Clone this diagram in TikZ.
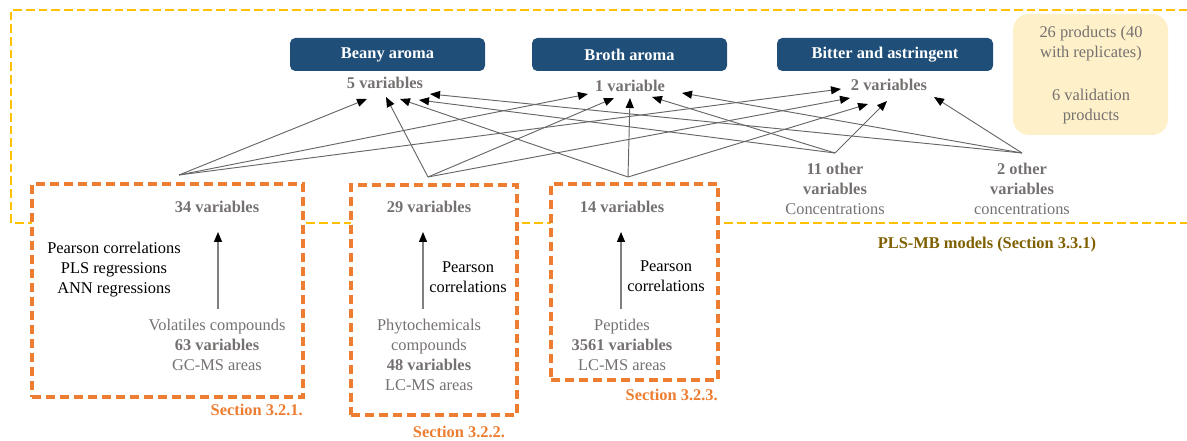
\documentclass[tikz,border=0pt]{standalone}
\usepackage{fontspec}
\setmainfont{Liberation Serif}
\usetikzlibrary{arrows.meta}
\definecolor{orng}{HTML}{ED7D31}
\definecolor{ylw}{HTML}{FFC000}
\definecolor{ylwfill}{HTML}{FEF0C8}
\definecolor{navy}{HTML}{1F4E79}
\definecolor{txtgray}{HTML}{767171}
\definecolor{gold}{HTML}{7F6000}
\begin{document}
\begin{tikzpicture}[x=0.75pt,y=-0.75pt,
  font=\fontsize{12.3}{15}\selectfont,
  every node/.style={inner sep=0pt, align=center},
  catbox/.style={fill=navy, rounded corners=4pt, text=white, font=\fontsize{12.3}{15}\selectfont\bfseries, minimum height=24.75pt},
  vb/.style={text=txtgray, font=\fontsize{12.3}{15}\selectfont\bfseries},
  gtxt/.style={text=txtgray},
  secbox/.style={draw=orng, fill=white, line width=2.5pt, dash pattern=on 7pt off 3.5pt},
  seclabel/.style={text=orng, font=\fontsize{12.3}{15}\selectfont\bfseries},
  conn/.style={draw=black!60, line width=0.7pt, -{Triangle[length=7.5pt,width=6pt,color=black,fill=black]}},
  inarrow/.style={draw=black!50, line width=0.9pt, -{Triangle[length=7.5pt,width=6pt,color=black,fill=black]}}
]
\useasboundingbox (0,0) rectangle (1187,441);
\clip (0,0) rectangle (1187,441);

% outer yellow dashed frame
\draw[ylw, line width=2.2pt, dash pattern=on 6.5pt off 3pt] (1200,10) -- (11,10) -- (11,223) -- (1200,223);

% products box
\node[fill=ylwfill, rounded corners=12pt, minimum width=116.25pt, minimum height=90.75pt] (prod) at (1090.5,74.5) {};
\node[gtxt] (prodA) at (1091,44) {26 products (40\\with replicates)};
\node[gtxt] (prodB) at (1091,107) {6 validation\\products};

% category boxes
\node[catbox, minimum width=146.25pt] (beany) at (387.5,54.5) {Beany aroma};
\node[catbox, minimum width=146.25pt] (broth) at (629.5,54.5) {Broth aroma};
\node[catbox, minimum width=162pt] (bitter) at (885,54.5) {Bitter and astringent};

\node[vb] (v5) at (385,83) {5 variables};
\node[vb] (v1) at (630,86) {1 variable};
\node[vb] (v2) at (889,85) {2 variables};

% section boxes
\node[secbox, minimum width=203.25pt, minimum height=159.75pt] (b1) at (167.5,290.5) {};
\node[secbox, minimum width=124.5pt, minimum height=172.5pt] (b2) at (434,300) {};
\node[secbox, minimum width=125.25pt, minimum height=147pt] (b3) at (634.5,282) {};

\node[seclabel, anchor=east] (l1) at (303,410) {Section 3.2.1.};
\node[seclabel] (l2) at (459,432) {Section 3.2.2.};
\node[seclabel, anchor=east] (l3) at (718,395) {Section 3.2.3.};

% box 1 content
\node[vb] (v34) at (217,207) {34 variables};
\node (m1) at (114,270) {Pearson correlations\\PLS regressions\\ANN regressions};
\node[gtxt] (src1) at (217,345) {Volatiles compounds\\\textbf{63 variables}\\GC-MS areas};
\coordinate (a1s) at (218,309);
\coordinate (a1e) at (218,232);
\draw[inarrow] (a1s) -- (a1e);

% box 2 content
\node[vb] (v29) at (429,207) {29 variables};
\node (m2) at (468,277) {Pearson\\correlations};
\node[gtxt] (src2) at (429,355) {Phytochemicals\\compounds\\\textbf{48 variables}\\LC-MS areas};
\coordinate (a2s) at (423,309);
\coordinate (a2e) at (423,232);
\draw[inarrow] (a2s) -- (a2e);

% box 3 content
\node[vb] (v14) at (622,207) {14 variables};
\node (m3) at (666,276) {Pearson\\correlations};
\node[gtxt] (src3) at (622,345) {Peptides\\\textbf{3561 variables}\\LC-MS areas};
\coordinate (a3s) at (621,309);
\coordinate (a3e) at (621,232);
\draw[inarrow] (a3s) -- (a3e);

% other variables
\node[gtxt] (o11) at (835,189) {\textbf{11 other}\\\textbf{variables}\\Concentrations};
\node[gtxt] (o2) at (1022,189) {\textbf{2 other}\\\textbf{variables}\\concentrations};

\node[text=gold, font=\fontsize{12.3}{15}\selectfont\bfseries] (pls) at (987,245) {PLS-MB models (Section 3.3.1)};

% sources
\coordinate (s1) at (179,175);
\coordinate (s2) at (428,177);
\coordinate (s3) at (628,177);
\coordinate (s4) at (835,153);
\coordinate (s5) at (1022,153);

% targets
\coordinate (t5a) at (367,99);
\coordinate (t5b) at (386,97);
\coordinate (t5c) at (400,99);
\coordinate (t5d) at (419,100);
\coordinate (t5e) at (430,94);
\coordinate (t1a) at (588,94);
\coordinate (t1b) at (614,98);
\coordinate (t1c) at (630,98);
\coordinate (t1d) at (652,97);
\coordinate (t1e) at (682,93);
\coordinate (t2a) at (841,89);
\coordinate (t2b) at (850,98);
\coordinate (t2c) at (868,104);
\coordinate (t2d) at (887,101);
\coordinate (t2e) at (934,97);

\draw[conn] (s1) -- (t5a);
\draw[conn] (s1) -- (t1a);
\draw[conn] (s1) -- (t2a);
\draw[conn] (s2) -- (t5b);
\draw[conn] (s2) -- (t1b);
\draw[conn] (s2) -- (t2b);
\draw[conn] (s3) -- (t5c);
\draw[conn] (s3) -- (t1c);
\draw[conn] (s3) -- (t2c);
\draw[conn] (s4) -- (t5d);
\draw[conn] (s4) -- (t1d);
\draw[conn] (s4) -- (t2d);
\draw[conn] (s5) -- (t5e);
\draw[conn] (s5) -- (t1e);
\draw[conn] (s5) -- (t2e);
\end{tikzpicture}
\end{document}
